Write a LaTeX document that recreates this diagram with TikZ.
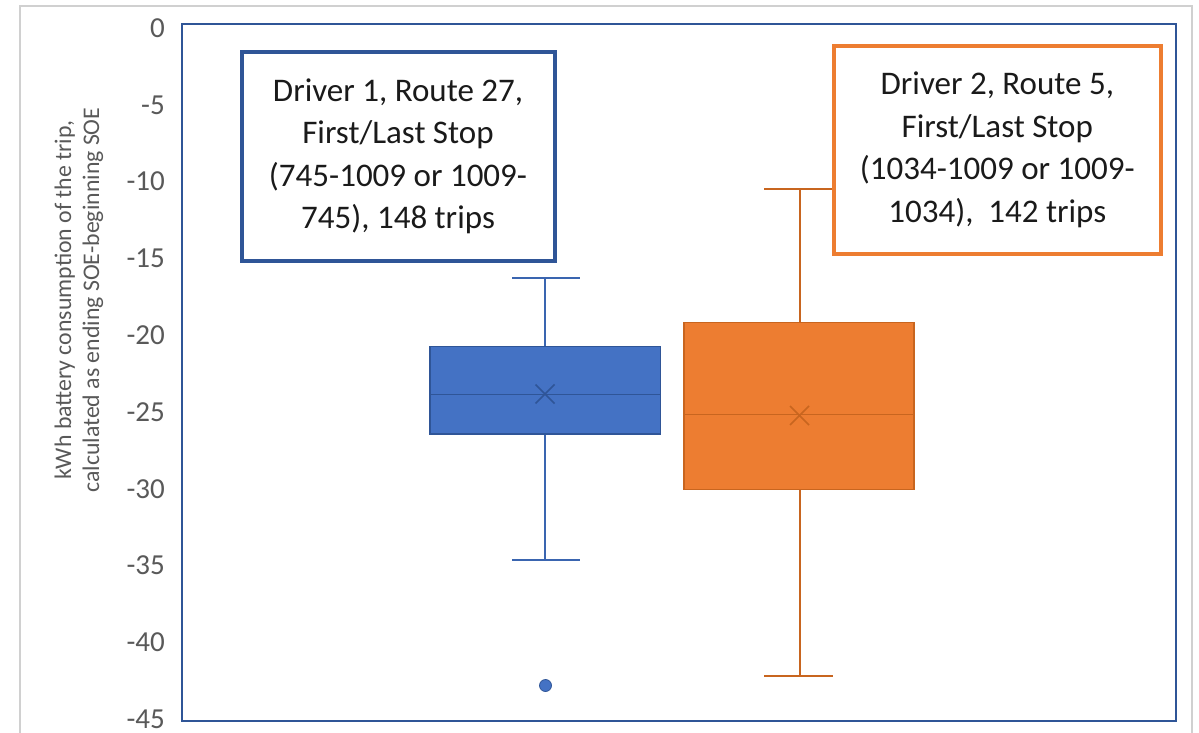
\documentclass[tikz,border=0pt]{standalone}
\usepackage{fontspec}
\setmainfont{Carlito}
\definecolor{boxblue}{HTML}{4472C4}
\definecolor{edgeblue}{HTML}{2F5597}
\definecolor{whiskblue}{HTML}{3A65B0}
\definecolor{boxorange}{HTML}{ED7D31}
\definecolor{edgeorange}{HTML}{C8651F}
\definecolor{axisgray}{HTML}{595959}
\definecolor{framegray}{HTML}{D0D0D0}
\definecolor{inktext}{HTML}{1A1A1A}
\begin{document}
\begin{tikzpicture}[x=1pt,y=-1pt,
  ticklabel/.style={anchor=east, inner sep=0pt, text=axisgray, font=\fontsize{29}{34}\selectfont},
  axistitle/.style={rotate=90, align=center, text=axisgray, font=\fontsize{23.8}{28}\selectfont},
  note/.style={fill=white, line width=4pt, align=center, inner sep=0pt, text=inktext,
    font=\fontsize{33}{42.5}\selectfont},
  bluebox/.style={fill=boxblue, draw=edgeblue, line width=1.5pt},
  orangebox/.style={fill=boxorange, draw=edgeorange, line width=1.5pt},
  bluewhisker/.style={draw=whiskblue, line width=2pt},
  orangewhisker/.style={draw=edgeorange, line width=2pt},
  meanmark/.style={line width=1.5pt}
]
\useasboundingbox (0,0) rectangle (1199,733);
\fill[white] (0,0) rectangle (1199,733);

% chart area border
\draw[framegray, line width=1.5pt] (20,745) -- (20,6) -- (1192,6) -- (1192,745);

% y tick labels
\foreach \v in {0,5,...,45} {
  \node[ticklabel] (tick\v) at (165,{28+15.36*\v}) {\ifnum\v=0 0\else -\v\fi};
}

% axis title
\node[axistitle] (ytitle) at (79,300) {kWh battery consumption of the trip,\\calculated as ending SOE-beginning SOE};

% Driver 1 box plot
\draw[bluewhisker] (545,346.7) -- (545,278.3);
\draw[bluewhisker] (512,278.3) -- (580,278.3);
\draw[bluewhisker] (545,434) -- (545,560);
\draw[bluewhisker] (512,560) -- (580,560);
\draw[bluebox] (430,346.7) rectangle (660.7,434);
\draw[edgeblue, line width=1.5pt] (430,394.3) -- (660.7,394.3);
\draw[edgeblue, meanmark] (535.5,384.5) -- (554.5,403.5) (535.5,403.5) -- (554.5,384.5);
\fill[boxblue, draw=edgeblue, line width=0.8pt] (545.5,685.5) circle (6);

% Driver 2 box plot
\draw[orangewhisker] (799.5,322.5) -- (799.5,189);
\draw[orangewhisker] (764,189) -- (834,189);
\draw[orangewhisker] (799.5,489.5) -- (799.5,676);
\draw[orangewhisker] (764,676) -- (833,676);
\draw[orangebox] (684,322.5) rectangle (914,489.5);
\draw[edgeorange, line width=1.5pt] (684,414.3) -- (914,414.3);
\draw[edgeorange, meanmark] (790,406) -- (809,425) (790,425) -- (809,406);

% legend notes
\node[note, draw=edgeblue, minimum width=313pt, minimum height=209pt] (note1) at (398,156.5)
  {Driver 1, Route 27,\\First/Last Stop\\(745-1009 or 1009-\\745), 148 trips};
\node[note, draw=boxorange, minimum width=327pt, minimum height=208pt] (note2) at (997.3,149.7)
  {Driver 2, Route 5,\\First/Last Stop\\(1034-1009 or 1009-\\1034), \ 142 trips};

% plot frame
\draw[edgeblue, line width=2.5pt] (182,24) rectangle (1176,721);
\end{tikzpicture}
\end{document}
